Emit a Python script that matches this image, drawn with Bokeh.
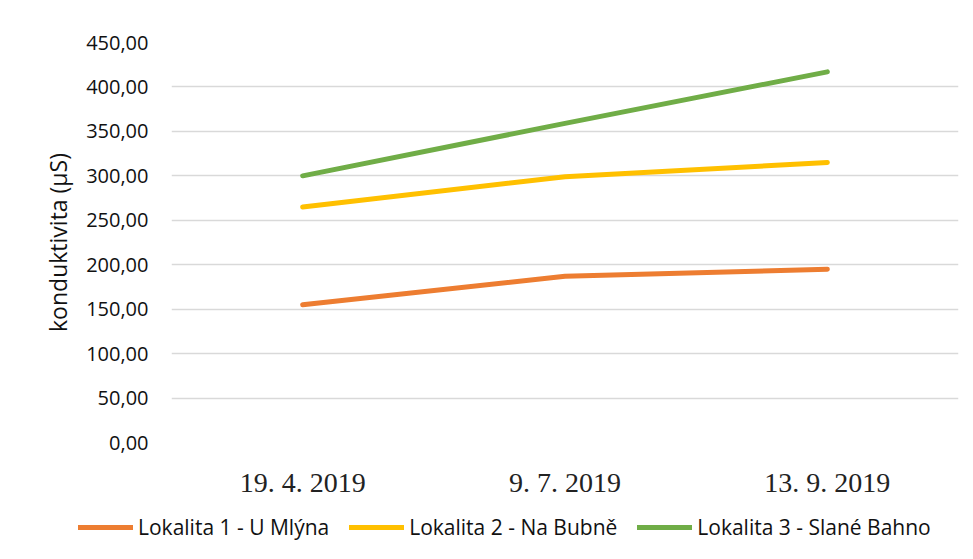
from bokeh.plotting import figure
from bokeh.models import FixedTicker, Legend, LegendItem, Range1d
from bokeh.layouts import column
from bokeh.embed import file_html
from bokeh.resources import INLINE

dates = ["19. 4. 2019", "9. 7. 2019", "13. 9. 2019"]
lokalita1 = [155, 187, 195]
lokalita2 = [265, 299, 315]
lokalita3 = [300, 359, 417]
series_names = ["Lokalita 1 - U Mlýna", "Lokalita 2 - Na Bubně", "Lokalita 3 - Slané Bahno"]
colors = ["#ED7D31", "#FFC000", "#70AD47"]
y_ticks = [0, 50, 100, 150, 200, 250, 300, 350, 400, 450]
y_tick_labels = ["0,00", "50,00", "100,00", "150,00", "200,00", "250,00",
                 "300,00", "350,00", "400,00", "450,00"]
series = [lokalita1, lokalita2, lokalita3]

p = figure(x_range=dates, y_range=Range1d(0, 450),
           frame_width=787, frame_height=400,
           min_border_left=171, min_border_top=42, min_border_right=7, min_border_bottom=61,
           output_backend="svg", toolbar_location=None)
p.outline_line_color = None
p.background_fill_color = "white"
p.border_fill_color = "white"

p.xgrid.grid_line_color = None
p.ygrid.grid_line_color = "#D9D9D9"
p.ygrid.grid_line_width = 1.5
p.yaxis.ticker = FixedTicker(ticks=y_ticks)
p.yaxis.major_label_overrides = {t: l for t, l in zip(y_ticks, y_tick_labels)}

for ax in (p.xaxis[0], p.yaxis[0]):
    ax.axis_line_color = None
    ax.major_tick_line_color = None
    ax.minor_tick_line_color = None

p.yaxis.major_label_text_font = "Open Sans"
p.yaxis.major_label_text_font_size = "20px"
p.yaxis.major_label_text_color = "#111111"
p.yaxis.major_label_standoff = 17
p.yaxis.axis_label = "konduktivita (µS)"
p.yaxis.axis_label_text_font = "Open Sans"
p.yaxis.axis_label_text_font_size = "23px"
p.yaxis.axis_label_text_font_style = "normal"
p.yaxis.axis_label_text_color = "#111111"
p.yaxis.axis_label_standoff = 9

p.xaxis.major_label_text_font = "Liberation Serif"
p.xaxis.major_label_text_font_size = "28px"
p.xaxis.major_label_text_color = "#222222"
p.xaxis.major_label_standoff = 18

for vals, c in zip(series, colors):
    p.line(dates, vals, line_color=c, line_width=5, line_cap="round", line_join="round")

# legend strip below the chart
pl = figure(x_range=dates, y_range=Range1d(0, 450), width=965, height=48,
            min_border=0, x_axis_location=None, y_axis_location=None,
            output_backend="svg", toolbar_location=None)
pl.outline_line_color = None
pl.grid.grid_line_color = None

can_unalign = "frame_align" in pl.properties()
if can_unalign:
    pl.frame_align = False
    p.frame_align = False
    leg_loc = (78, 10)
    leg_spacing = 20
else:
    leg_loc = (0, 10)
    leg_spacing = 8

items = []
for vals, name, c in zip(series, series_names, colors):
    r = pl.line(dates, vals, line_color=c, line_width=5, line_cap="round", visible=False)
    items.append(LegendItem(label=name, renderers=[r]))

legend = Legend(items=items, orientation="horizontal", location=leg_loc,
                label_text_font="Open Sans", label_text_font_size="21px",
                label_text_color="#111111", glyph_width=55, glyph_height=22,
                label_standoff=5, spacing=leg_spacing, padding=0, margin=0,
                border_line_color=None, background_fill_alpha=0,
                inactive_fill_alpha=0)
pl.add_layout(legend, "center")

layout = column(p, pl, spacing=0)
open("out.html", "w").write(file_html(layout, INLINE))
